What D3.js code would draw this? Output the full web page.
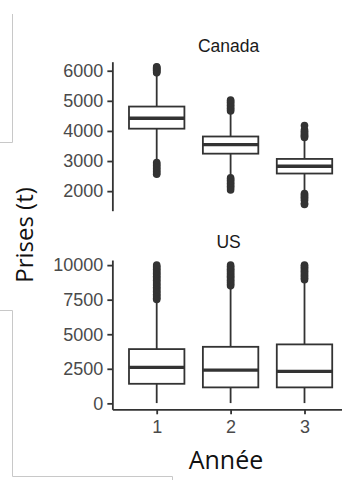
<!DOCTYPE html>
<html>
<head>
<meta charset="utf-8">
<style>
  body { margin: 0; background: #fff; }
  svg { display: block; }
  .tick line, .domain { stroke: #333; }
</style>
<script src="https://cdn.jsdelivr.net/npm/d3@7"></script>
</head>
<body>
<script>
// categories
var years = ["1", "2", "3"];
var countries = ["Canada", "US"];

// box stats per year: [lower whisker, q1, median, q3, upper whisker]
var canadaStats = [
  [2960, 4075, 4420, 4810, 5920],
  [2445, 3245, 3545, 3815, 4650],
  [1930, 2585, 2825, 3070, 3775]
];
var usStats = [
  [20, 1415, 2600, 3925, 7480],
  [20, 1155, 2405, 4090, 8480],
  [20, 1155, 2310, 4265, 8930]
];

// outliers
var canadaOutliers = [
  [5930, 5960, 5990, 6020, 6050, 6080, 6110, 6130, 2950, 2900, 2850, 2800, 2750, 2700, 2650, 2600, 2560],
  [4660, 4700, 4750, 4800, 4850, 4900, 4950, 5000, 5030, 2440, 2400, 2350, 2300, 2250, 2200, 2150, 2100, 2040],
  [3780, 3820, 3860, 3900, 3940, 3990, 4040, 4180, 1920, 1880, 1840, 1800, 1750, 1700, 1600, 1560]
];
var usOutliers = [
  [7520, 7600, 7700, 7800, 7900, 8000, 8100, 8200, 8300, 8400, 8500, 8600, 8700, 8800, 8900, 9000, 9100, 9200, 9300, 9400, 9500, 9600, 9700, 9800, 9900, 10000],
  [8500, 8600, 8700, 8800, 8900, 9000, 9100, 9200, 9300, 9400, 9500, 9600, 9700, 9800, 9900, 10000],
  [8950, 9050, 9150, 9250, 9350, 9450, 9550, 9650, 9750, 9850, 9950, 10000]
];

// tick labels
var canadaTicks = [2000, 3000, 4000, 5000, 6000];
var usTicks = [0, 2500, 5000, 7500, 10000];

var W = 342, H = 480;
var svg = d3.select("body").append("svg").attr("width", W).attr("height", H);

// faint frame lines from the pasted screenshot
var frame = svg.append("g").attr("fill", "none").attr("stroke", "#c8c8c8").attr("stroke-width", 1);
frame.append("path").attr("d", "M12.5,14V142.5H0");
frame.append("path").attr("d", "M0,310.5H12.5V476.5H172.5V480");

var x = d3.scalePoint().domain(years).range([156.7, 304.5]);
var step = x.step();
var boxW = step * 0.75;
var left = x(years[0]) - step * 0.6, right = x(years[2]) + step * 0.6;

var panels = [
  {name: countries[0], stats: canadaStats, out: canadaOutliers, ticks: canadaTicks,
   y: d3.scaleLinear().domain([1350, 6300]).range([210.7, 61.7]), titleY: 52},
  {name: countries[1], stats: usStats, out: usOutliers, ticks: usTicks,
   y: d3.scaleLinear().domain([-430, 10370]).range([409.3, 260]), titleY: 248}
];

function styleTicks(a) {
  a.selectAll(".tick text")
    .attr("font-family", "Liberation Sans, Arial, sans-serif")
    .attr("font-size", 18).attr("fill", "#4a4a4a");
}

panels.forEach(function(p, i) {
  var g = svg.append("g");

  g.append("text")
    .attr("x", (left + right) / 2 - 2).attr("y", p.titleY)
    .attr("text-anchor", "middle")
    .attr("font-family", "Liberation Sans, Arial, sans-serif")
    .attr("font-size", 17.5).attr("fill", "#1a1a1a")
    .text(p.name);

  g.append("g")
    .attr("transform", "translate(" + left + ",0)")
    .call(d3.axisLeft(p.y).tickValues(p.ticks).tickFormat(d3.format("d"))
      .tickSize(5).tickSizeOuter(0).tickPadding(4))
    .call(a => a.selectAll("line, path").attr("stroke-width", 1.8))
    .call(styleTicks);

  if (i == 1) {
    g.append("g")
      .attr("transform", "translate(0," + p.y.range()[0] + ")")
      .call(d3.axisBottom(d3.scaleLinear().domain([0, 1]).range([left, right])).tickValues([]).tickSizeOuter(0))
      .call(a => a.select(".domain").attr("stroke-width", 1.8));
    g.append("g")
      .attr("transform", "translate(0," + p.y.range()[0] + ")")
      .call(d3.axisBottom(x).tickSize(5).tickSizeOuter(0).tickPadding(6))
      .call(a => a.select(".domain").remove())
      .call(a => a.selectAll("line").attr("stroke-width", 1.8))
      .call(styleTicks);
  }

  var box = g.selectAll(".box").data(p.stats).enter().append("g").attr("class", "box");
  box.append("line")
    .attr("x1", (d, j) => x(years[j])).attr("x2", (d, j) => x(years[j]))
    .attr("y1", d => p.y(d[0])).attr("y2", d => p.y(d[4]))
    .attr("stroke", "#333").attr("stroke-width", 1.8);
  box.append("rect")
    .attr("x", (d, j) => x(years[j]) - boxW / 2).attr("width", boxW)
    .attr("y", d => p.y(d[3])).attr("height", d => p.y(d[1]) - p.y(d[3]))
    .attr("fill", "#fff").attr("stroke", "#333").attr("stroke-width", 1.8);
  box.append("line")
    .attr("x1", (d, j) => x(years[j]) - boxW / 2).attr("x2", (d, j) => x(years[j]) + boxW / 2)
    .attr("y1", d => p.y(d[2])).attr("y2", d => p.y(d[2]))
    .attr("stroke", "#333").attr("stroke-width", 3.4);

  p.out.forEach(function(vals, j) {
    g.selectAll(null).data(vals).enter().append("circle")
      .attr("cx", x(years[j])).attr("cy", d => p.y(d))
      .attr("r", 3.8).attr("fill", "#333");
  });
});

svg.append("text")
  .attr("x", 226).attr("y", 469).attr("text-anchor", "middle")
  .attr("font-family", "Open Sans, sans-serif").attr("font-size", 25).attr("fill", "#111")
  .text("Année");

svg.append("text")
  .attr("transform", "translate(33,235) rotate(-90)").attr("text-anchor", "middle")
  .attr("font-family", "Open Sans, sans-serif").attr("font-size", 24).attr("fill", "#111")
  .text("Prises (t)");
</script>
</body>
</html>
